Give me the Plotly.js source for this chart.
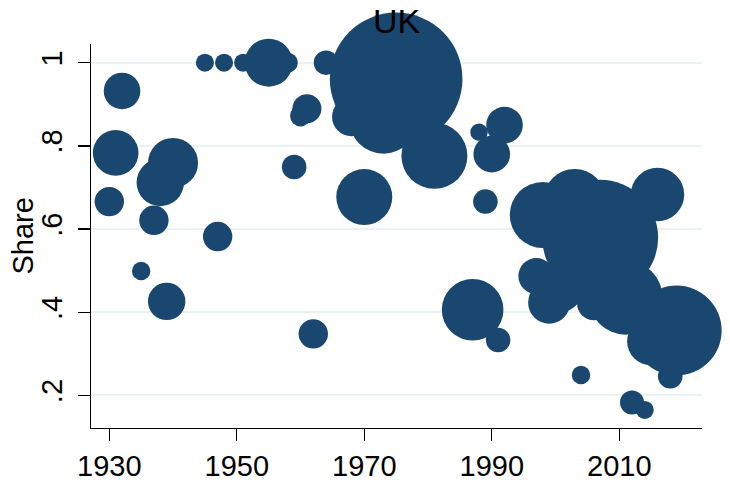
<!DOCTYPE html>
<html>
<head>
<meta charset="utf-8">
<script src="https://cdn.plot.ly/plotly-3.0.1.min.js"></script>
<style>
  html, body { margin: 0; padding: 0; background: #ffffff; }
  #chart { width: 730px; height: 482px; }
</style>
</head>
<body>
<div id="chart"></div>
<script>
// Year of each observation
var years = [1930, 1931, 1932, 1935, 1937, 1938, 1939, 1940, 1945, 1947,
             1948, 1951, 1955, 1958, 1959, 1960, 1961, 1962, 1964, 1968,
             1970, 1973, 1975, 1981, 1987, 1988, 1989, 1990, 1991, 1992,
             1997, 1998, 1999, 2001, 2003, 2004, 2006, 2007, 2011, 2012,
             2014, 2015, 2016, 2018, 2019];
// Share (y value)
var share = [0.666, 0.783, 0.932, 0.499, 0.621, 0.712, 0.426, 0.759, 1.000, 0.582,
             1.000, 1.000, 1.000, 1.000, 0.749, 0.872, 0.889, 0.348, 1.000, 0.870,
             0.677, 0.863, 0.961, 0.776, 0.406, 0.833, 0.666, 0.780, 0.333, 0.850,
             0.487, 0.634, 0.423, 0.450, 0.670, 0.249, 0.421, 0.579, 0.435, 0.183,
             0.165, 0.330, 0.683, 0.246, 0.356];
// Bubble weight (area-proportional)
var weight = [216, 520, 335, 85, 216, 562, 350, 625, 81, 216,
              81, 81, 576, 100, 151, 110, 210, 216, 151, 380,
              784, 1156, 4396, 1089, 949, 76, 151, 335, 151, 335,
              324, 1089, 441, 400, 961, 86, 279, 3364, 1369, 144,
              81, 576, 713, 151, 2025];
var xTicks = [1930, 1950, 1970, 1990, 2010];
var yTicks = [0.2, 0.4, 0.6, 0.8, 1];
var yTickText = ['.2', '.4', '.6', '.8', '1'];
var yTitle = 'Share';
var chartTitle = 'UK';

var fontFam = '"Liberation Sans", Arial, Helvetica, sans-serif';
var navy = '#1a476f';

var trace = {
  type: 'scatter',
  mode: 'markers',
  x: years,
  y: share,
  cliponaxis: false,
  hoverinfo: 'skip',
  marker: {
    size: weight,
    sizemode: 'area',
    sizeref: 0.5,
    color: navy,
    opacity: 1,
    line: { width: 0 }
  }
};

var layout = {
  width: 730,
  height: 482,
  paper_bgcolor: '#ffffff',
  plot_bgcolor: '#ffffff',
  showlegend: false,
  margin: { l: 91, r: 28, t: 44, b: 54, pad: 0 },
  font: { family: fontFam, color: '#000000' },
  title: {
    text: chartTitle,
    font: { family: fontFam, size: 34, color: '#000000' },
    xref: 'paper', x: 0.5, xanchor: 'center',
    yref: 'container', y: 1 - 21 / 482, yanchor: 'middle'
  },
  xaxis: {
    range: [1927.13, 2022.98],
    tickmode: 'array',
    tickvals: xTicks,
    ticktext: xTicks.map(String),
    ticks: 'outside',
    ticklen: 12,
    tickwidth: 1.3,
    tickcolor: '#000000',
    tickfont: { family: fontFam, size: 29, color: '#000000' },
    showline: true,
    linecolor: '#000000',
    linewidth: 1.3,
    showgrid: false,
    zeroline: false
  },
  yaxis: {
    range: [0.1216, 1.0449],
    tickmode: 'array',
    tickvals: yTicks,
    ticktext: yTickText,
    tickangle: -90,
    ticks: 'outside',
    ticklen: 12,
    tickwidth: 1.3,
    tickcolor: '#000000',
    tickfont: { family: fontFam, size: 29, color: '#000000' },
    ticklabelstandoff: 4,
    showline: true,
    linecolor: '#000000',
    linewidth: 1.3,
    showgrid: true,
    gridcolor: '#eaf2f3',
    gridwidth: 2,
    zeroline: false
  },
  annotations: [{
    text: yTitle,
    xref: 'paper', yref: 'paper',
    x: (22.5 - 91) / 611, y: 0.5,
    xanchor: 'center', yanchor: 'middle',
    textangle: -90,
    showarrow: false,
    font: { family: fontFam, size: 29, color: '#000000' }
  }]
};

Plotly.newPlot('chart', [trace], layout, { staticPlot: true, displayModeBar: false });
</script>
</body>
</html>
